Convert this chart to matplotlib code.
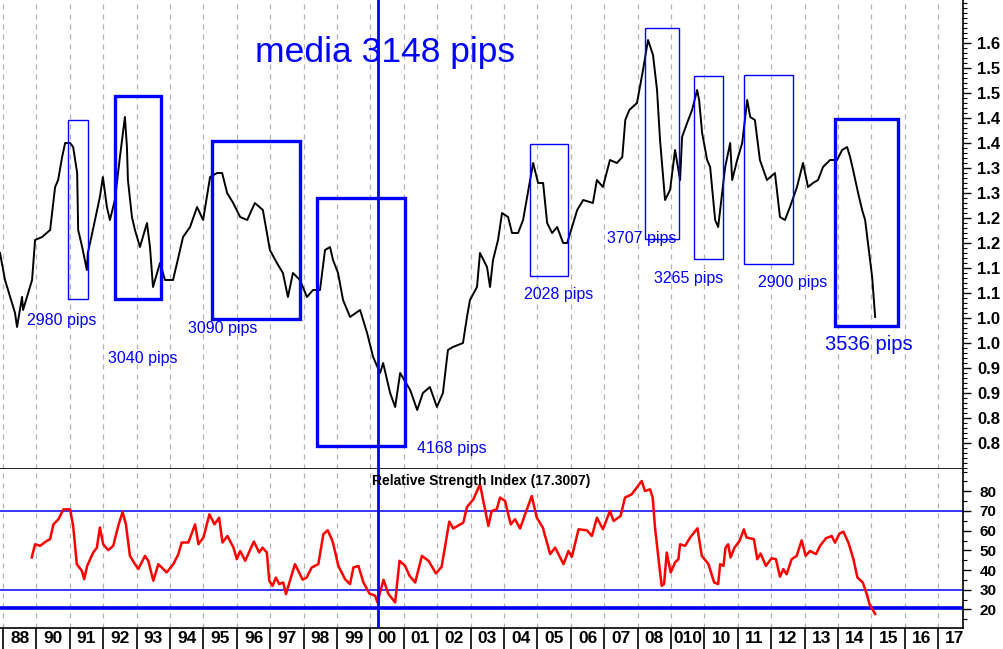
import math
import matplotlib
matplotlib.use("Agg")
import matplotlib.pyplot as plt
from matplotlib.patches import Rectangle
from matplotlib.ticker import MultipleLocator, FixedLocator, FuncFormatter
import numpy as np

# price series (decimal year, price)
price_t = [1988.91, 1989.06, 1989.36, 1989.42, 1989.57, 1989.60, 1989.87, 1989.96, 1990.17, 1990.41,
           1990.56, 1990.65, 1990.77, 1990.86, 1991.01, 1991.10, 1991.22, 1991.25, 1991.37, 1991.51,
           1991.54, 1991.69, 1991.90, 1991.99, 1992.11, 1992.20, 1992.35, 1992.50, 1992.65, 1992.71,
           1992.74, 1992.86, 1992.95, 1993.10, 1993.31, 1993.40, 1993.49, 1993.70, 1993.85, 1994.09,
           1994.21, 1994.39, 1994.60, 1994.81, 1994.99, 1995.20, 1995.41, 1995.56, 1995.71, 1995.89,
           1996.10, 1996.31, 1996.54, 1996.78, 1996.99, 1997.20, 1997.38, 1997.53, 1997.68, 1997.89,
           1998.10, 1998.28, 1998.49, 1998.64, 1998.79, 1998.88, 1999.03, 1999.18, 1999.39, 1999.69,
           1999.90, 2000.08, 2000.29, 2000.38, 2000.59, 2000.74, 2000.89, 2001.19, 2001.40, 2001.57,
           2001.78, 2001.99, 2002.17, 2002.32, 2002.47, 2002.77, 2002.89, 2002.98, 2003.19, 2003.28,
           2003.49, 2003.58, 2003.67, 2003.82, 2003.94, 2004.12, 2004.24, 2004.42, 2004.57, 2004.78,
           2004.87, 2005.02, 2005.17, 2005.29, 2005.44, 2005.59, 2005.77, 2005.89, 2005.98, 2006.19,
           2006.37, 2006.66, 2006.78, 2006.96, 2007.17, 2007.38, 2007.54, 2007.63, 2007.75, 2007.98,
           2008.16, 2008.31, 2008.46, 2008.58, 2008.67, 2008.82, 2008.97, 2009.12, 2009.27, 2009.33,
           2009.48, 2009.63, 2009.78, 2009.84, 2009.93, 2010.08, 2010.17, 2010.32, 2010.41, 2010.53,
           2010.62, 2010.77, 2010.83, 2010.98, 2011.13, 2011.28, 2011.37, 2011.51, 2011.66, 2011.87,
           2012.11, 2012.26, 2012.41, 2012.56, 2012.77, 2012.95, 2013.10, 2013.25, 2013.40, 2013.55,
           2013.76, 2013.97, 2014.12, 2014.27, 2014.36, 2014.45, 2014.60, 2014.72, 2014.81, 2014.93,
           2015.02, 2015.11]
price_v = [1.180, 1.126, 1.060, 1.032, 1.092, 1.066, 1.126, 1.206, 1.212, 1.226,
           1.312, 1.326, 1.372, 1.400, 1.400, 1.392, 1.340, 1.226, 1.192, 1.146,
           1.180, 1.226, 1.292, 1.332, 1.272, 1.246, 1.286, 1.372, 1.452, 1.392,
           1.326, 1.252, 1.226, 1.192, 1.240, 1.192, 1.112, 1.160, 1.126, 1.126,
           1.160, 1.212, 1.232, 1.272, 1.246, 1.332, 1.340, 1.340, 1.300, 1.280,
           1.252, 1.246, 1.280, 1.266, 1.186, 1.160, 1.140, 1.092, 1.140, 1.126,
           1.092, 1.106, 1.106, 1.186, 1.192, 1.166, 1.140, 1.086, 1.052, 1.066,
           1.020, 0.972, 0.940, 0.960, 0.900, 0.872, 0.940, 0.906, 0.866, 0.900,
           0.912, 0.872, 0.900, 0.986, 0.992, 1.000, 1.052, 1.086, 1.112, 1.180,
           1.152, 1.112, 1.166, 1.206, 1.260, 1.252, 1.220, 1.220, 1.246, 1.326,
           1.360, 1.320, 1.320, 1.240, 1.220, 1.232, 1.200, 1.200, 1.220, 1.266,
           1.286, 1.280, 1.326, 1.312, 1.366, 1.360, 1.372, 1.446, 1.466, 1.480,
           1.546, 1.606, 1.576, 1.506, 1.406, 1.286, 1.306, 1.386, 1.326, 1.412,
           1.440, 1.466, 1.506, 1.486, 1.420, 1.366, 1.352, 1.246, 1.232, 1.300,
           1.352, 1.400, 1.326, 1.366, 1.400, 1.486, 1.452, 1.446, 1.366, 1.326,
           1.340, 1.252, 1.246, 1.272, 1.312, 1.360, 1.312, 1.320, 1.326, 1.352,
           1.366, 1.366, 1.386, 1.392, 1.372, 1.346, 1.300, 1.266, 1.246, 1.180,
           1.132, 1.052]

# RSI series
rsi_t = [1989.86, 1989.96, 1990.11, 1990.31, 1990.41, 1990.51, 1990.66, 1990.81, 1991.01, 1991.10,
         1991.21, 1991.36, 1991.43, 1991.52, 1991.70, 1991.81, 1991.90, 1992.00, 1992.15, 1992.30,
         1992.45, 1992.58, 1992.68, 1992.80, 1992.95, 1993.05, 1993.25, 1993.35, 1993.50, 1993.65,
         1993.80, 1993.90, 1994.10, 1994.25, 1994.35, 1994.55, 1994.75, 1994.85, 1995.00, 1995.18,
         1995.33, 1995.47, 1995.57, 1995.72, 1995.90, 1996.00, 1996.10, 1996.25, 1996.51, 1996.67,
         1996.77, 1996.90, 1996.97, 1997.07, 1997.17, 1997.27, 1997.39, 1997.47, 1997.59, 1997.74,
         1997.97, 1998.09, 1998.24, 1998.44, 1998.59, 1998.72, 1998.84, 1998.89, 1999.04, 1999.24,
         1999.39, 1999.49, 1999.64, 1999.79, 1999.97, 2000.14, 2000.21, 2000.39, 2000.54, 2000.74,
         2000.87, 2001.04, 2001.17, 2001.34, 2001.54, 2001.74, 2001.96, 2002.13, 2002.36, 2002.48,
         2002.78, 2002.89, 2003.08, 2003.28, 2003.38, 2003.53, 2003.63, 2003.78, 2003.88, 2004.03,
         2004.20, 2004.33, 2004.48, 2004.63, 2004.83, 2004.98, 2005.16, 2005.38, 2005.53, 2005.78,
         2005.93, 2006.03, 2006.23, 2006.48, 2006.63, 2006.78, 2006.96, 2007.17, 2007.28, 2007.49,
         2007.62, 2007.82, 2008.12, 2008.22, 2008.37, 2008.45, 2008.52, 2008.62, 2008.72, 2008.79,
         2008.87, 2008.99, 2009.12, 2009.22, 2009.27, 2009.42, 2009.57, 2009.79, 2009.92, 2010.12,
         2010.29, 2010.41, 2010.47, 2010.57, 2010.63, 2010.71, 2010.78, 2010.90, 2011.05, 2011.18,
         2011.26, 2011.48, 2011.58, 2011.68, 2011.84, 2012.01, 2012.14, 2012.26, 2012.36, 2012.46,
         2012.61, 2012.76, 2012.91, 2013.03, 2013.16, 2013.34, 2013.46, 2013.64, 2013.81, 2013.91,
         2014.04, 2014.16, 2014.31, 2014.46, 2014.58, 2014.74, 2014.86, 2014.94, 2015.11]
rsi_v = [46.4, 53.1, 52.3, 54.8, 55.7, 63.2, 65.8, 70.8, 70.8, 62.4,
         43.0, 39.6, 35.4, 42.1, 48.9, 51.4, 61.6, 53.1, 50.1, 52.3,
         62.4, 69.5, 63.2, 47.2, 43.0, 40.5, 47.2, 44.7, 34.6, 43.0,
         40.5, 38.8, 43.0, 48.1, 54.0, 54.0, 63.2, 53.1, 56.5, 68.3,
         63.2, 66.6, 54.0, 57.3, 51.4, 45.5, 49.7, 44.7, 54.5, 48.9,
         51.4, 48.9, 34.6, 32.0, 36.2, 32.9, 33.7, 27.8, 34.6, 43.0,
         35.1, 36.2, 41.3, 43.0, 58.2, 60.2, 55.7, 53.1, 42.1, 35.4,
         32.9, 41.3, 42.1, 33.7, 28.1, 27.0, 23.6, 35.1, 27.8, 23.6,
         44.7, 42.1, 37.1, 33.7, 47.2, 44.7, 38.3, 41.6, 64.6, 61.1,
         64.1, 72.0, 75.9, 83.5, 75.1, 62.4, 70.0, 70.8, 76.8, 75.1,
         63.2, 65.8, 61.1, 68.3, 77.6, 66.6, 61.6, 48.1, 51.4, 43.0,
         49.7, 46.7, 60.7, 60.2, 57.3, 66.6, 60.7, 70.0, 64.9, 67.5,
         76.8, 78.4, 85.2, 80.1, 81.0, 76.8, 61.6, 46.4, 32.0, 32.9,
         48.9, 38.8, 43.9, 45.5, 53.1, 52.3, 56.5, 61.2, 47.2, 43.0,
         33.7, 32.9, 43.0, 42.1, 51.4, 53.1, 46.4, 51.4, 54.8, 60.7,
         56.5, 55.7, 45.5, 48.4, 42.1, 46.0, 45.5, 36.6, 40.5, 37.9,
         45.5, 47.2, 55.1, 47.2, 49.7, 48.1, 52.3, 56.2, 57.3, 53.9,
         58.5, 59.5, 53.9, 45.5, 36.2, 33.7, 27.8, 22.7, 17.7]

# boxes: (year0, year1, price_lo, price_hi, thick)
boxes = [(1990.95, 1991.54, 1.088, 1.446, False),
         (1992.35, 1993.73, 1.088, 1.494, True),
         (1995.26, 1997.89, 1.048, 1.404, True),
         (1998.40, 2001.04, 0.794, 1.290, True),
         (2004.78, 2005.92, 1.134, 1.398, False),
         (2008.22, 2009.24, 1.208, 1.630, False),
         (2009.69, 2010.56, 1.168, 1.534, False),
         (2011.19, 2012.65, 1.158, 1.536, False),
         (2013.91, 2015.80, 1.034, 1.448, True)]
pip_labels = ["2980 pips", "3040 pips", "3090 pips", "4168 pips", "2028 pips",
              "3707 pips", "3265 pips", "2900 pips", "3536 pips"]
pip_x = [1989.72, 1992.15, 1994.54, 2001.40, 2004.60, 2007.08, 2008.49, 2011.60, 2013.61]
pip_y = [1.046, 0.970, 1.030, 0.790, 1.098, 1.210, 1.128, 1.120, 0.996]

year_labels = ["88", "90", "91", "92", "93", "94", "95", "96", "97", "98", "99", "00", "01", "02",
               "03", "04", "05", "06", "07", "08", "010", "10", "11", "12", "13", "14", "15", "16", "17"]
first_year = 1989
marker_year = 2000.23
rsi_levels = [70, 30]
rsi_floor = 21

BLUE = "#0000ff"
fig = plt.figure(figsize=(10.04, 6.49), dpi=100)
ax = fig.add_axes([0, 1 - 469/649, 963/1004, 469/649])
ax2 = fig.add_axes([0, 1 - 628/649, 963/1004, 159/649], sharex=ax)

xmin, xmax = 1988.91, 2017.74
ax.set_xlim(xmin, xmax)
ax.set_ylim(0.748, 1.686)
ax2.set_ylim(10.6, 91.3)

bounds = [first_year + i for i in range(len(year_labels))]
for a in (ax, ax2):
    for b in bounds:
        a.axvline(b, color="#b0b0b0", ls=(0, (4, 4)), lw=0.9, zorder=0)
    a.axvline(marker_year, color=BLUE, lw=2, zorder=3)
    for s in ("left", "top"):
        a.spines[s].set_visible(False)
    a.spines["right"].set_linewidth(1.2)
    a.yaxis.tick_right()
ax.spines["bottom"].set_linewidth(1.2)
ax2.spines["bottom"].set_linewidth(1.2)

ax.plot(price_t, price_v, color="black", lw=1.4, zorder=2)
for (x0, x1, lo, hi, thick), lab, px, py in zip(boxes, pip_labels, pip_x, pip_y):
    ax.add_patch(Rectangle((x0, lo), x1 - x0, hi - lo, fill=False, ec=BLUE,
                           lw=2.4 if thick else 1.0, zorder=4))
    ax.text(px, py, lab, color=BLUE, fontsize=14.5 if lab == "3536 pips" else 11.5,
            fontfamily="Liberation Sans", va="center", ha="left", zorder=5)
ax.text(0.40, 0.889, "media 3148 pips", transform=ax.transAxes, color=BLUE, fontsize=25.5,
        fontfamily="Liberation Sans", ha="center", va="center")

ticks = [0.80 + 0.05*i for i in range(17)]
ax.yaxis.set_major_locator(FixedLocator(ticks))
ax.yaxis.set_minor_locator(MultipleLocator(0.01))
ax.yaxis.set_major_formatter(FuncFormatter(lambda v, p: "%.1f" % (math.floor(v*10 + 1e-6)/10)))
ax.tick_params(axis="y", which="major", length=6, width=1, labelsize=12, pad=4)
ax.tick_params(axis="y", which="minor", length=3, width=0.8)
for t in ax.get_yticklabels():
    t.set_fontweight("bold"); t.set_fontfamily("Liberation Sans")
ax.tick_params(axis="x", which="both", bottom=False, labelbottom=False)

ax2.plot(rsi_t, rsi_v, color="#ff0000", lw=1.8, zorder=2)
for lv in rsi_levels:
    ax2.axhline(lv, color=BLUE, lw=1.1, zorder=1)
ax2.axhline(rsi_floor, color=BLUE, lw=2.6, zorder=1)
ax2.yaxis.set_major_locator(FixedLocator([20, 30, 40, 50, 60, 70, 80]))
ax2.yaxis.set_minor_locator(MultipleLocator(5))
ax2.tick_params(axis="y", which="major", length=6, width=1, labelsize=11, pad=6)
ax2.tick_params(axis="y", which="minor", length=3, width=0.8)
for t in ax2.get_yticklabels():
    t.set_fontweight("bold"); t.set_fontfamily("Liberation Sans")
ax2.text(0.5, 0.925, "Relative Strength Index (17.3007)", transform=ax2.transAxes,
         fontsize=10, fontweight="bold", fontfamily="Liberation Sans", ha="center", va="center")

ax2.xaxis.set_major_locator(FixedLocator(bounds))
ax2.xaxis.set_minor_locator(FixedLocator([b + 0.5 for b in bounds]))
ax2.xaxis.set_major_formatter(FuncFormatter(lambda v, p: ""))
ax2.xaxis.set_minor_formatter(FuncFormatter(
    lambda v, p: year_labels[int(v - first_year)] if 0 <= int(v - first_year) < len(year_labels) else ""))
ax2.tick_params(axis="x", which="major", direction="out", length=16, width=1.2)
ax2.tick_params(axis="x", which="minor", length=0, labelsize=12.5, pad=2)
for t in ax2.get_xticklabels(minor=True):
    t.set_fontweight("bold"); t.set_fontfamily("Liberation Sans")
ax.set_xlim(xmin, xmax)

fig.savefig("out.png", dpi=100)
